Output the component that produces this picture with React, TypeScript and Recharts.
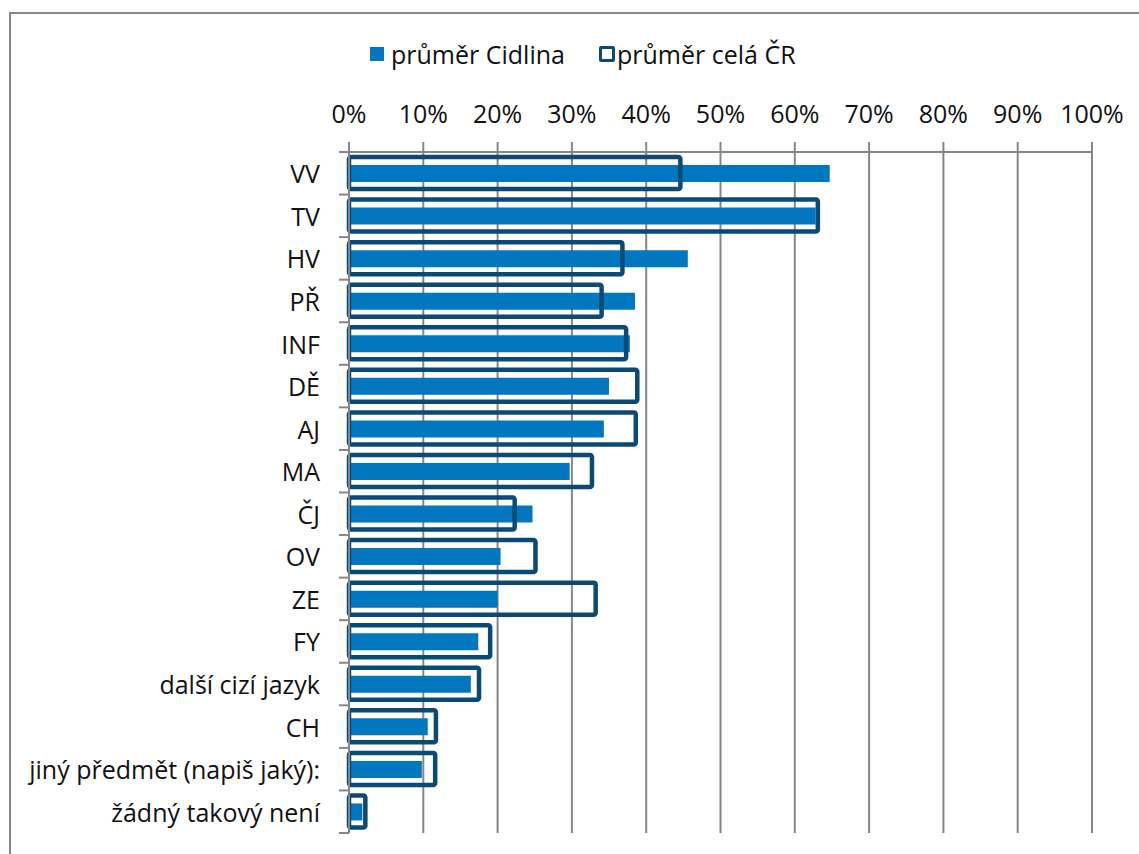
import { BarChart, Bar, XAxis, YAxis, CartesianGrid, Legend } from 'recharts'

const categories = [
  'VV',
  'TV',
  'HV',
  'PŘ',
  'INF',
  'DĚ',
  'AJ',
  'MA',
  'ČJ',
  'OV',
  'ZE',
  'FY',
  'další cizí jazyk',
  'CH',
  'jiný předmět (napiš jaký):',
  'žádný takový není',
]
const cidlina = [64.7, 62.8, 45.6, 38.5, 37.8, 35.0, 34.3, 29.7, 24.7, 20.4, 20.0, 17.4, 16.4, 10.6, 9.8, 1.8]
const celaCR = [44.6, 63.1, 36.8, 34.0, 37.3, 38.8, 38.6, 32.7, 22.3, 25.1, 33.2, 19.0, 17.5, 11.7, 11.6, 2.2]
const xTicks = [0, 10, 20, 30, 40, 50, 60, 70, 80, 90, 100]
const seriesNames = ['průměr Cidlina', 'průměr celá ČR']

const FILL = '#0077BF'
const DARK = '#0B4A75'
const GRID = '#868686'
const FONT = '"Open Sans", "Noto Sans", sans-serif'
const FS = 25

const W = 1139
const H = 854
const PLOT_TOP = 152
const PLOT_BOTTOM = 833
const BAND = (PLOT_BOTTOM - PLOT_TOP) / categories.length

const data = categories.map((name, i) => ({
  name,
  cidlina: cidlina[i],
  cr: celaCR[i],
}))

// label at band centre, tick mark on the band boundary (excel style)
function CategoryTick(props: any) {
  const { x, y, payload, index } = props
  const axisX = x + 29
  const last = index === categories.length - 1
  return (
    <g>
      <line x1={axisX - 10} x2={axisX} y1={y - BAND / 2} y2={y - BAND / 2} stroke={GRID} strokeWidth={2} />
      {last && (
        <line x1={axisX - 10} x2={axisX} y1={y + BAND / 2} y2={y + BAND / 2} stroke={GRID} strokeWidth={2} />
      )}
      <text x={x} y={y} textAnchor="end" dominantBaseline="central" fill="#111" fontSize={FS} fontFamily={FONT}>
        {payload.value}
      </text>
    </g>
  )
}

function LegendContent() {
  return (
    <div style={{ display: 'flex', alignItems: 'center', fontFamily: FONT, fontSize: FS, color: '#111', whiteSpace: 'nowrap' }}>
      <span style={{ display: 'inline-block', width: 14, height: 14, background: FILL, marginRight: 7 }} />
      <span style={{ marginRight: 34 }}>{seriesNames[0]}</span>
      <span
        style={{
          display: 'inline-block',
          width: 10,
          height: 10,
          border: `3px solid ${DARK}`,
          borderRadius: 2,
          background: '#fff',
          marginRight: 2,
        }}
      />
      <span>{seriesNames[1]}</span>
    </div>
  )
}

export default function App() {
  return (
    <div style={{ position: 'absolute', left: 0, top: 0, width: W, height: H, overflow: 'hidden', background: '#fff' }}>
      <div
        style={{
          position: 'absolute',
          left: 9,
          top: 12,
          width: 1300,
          height: 1000,
          border: `2px solid ${GRID}`,
        }}
      />
      <div style={{ position: 'absolute', left: 0, top: 0 }}>
        <BarChart
          width={W}
          height={H}
          data={data}
          layout="vertical"
          margin={{ top: PLOT_TOP - 60, right: W - 1092, bottom: H - PLOT_BOTTOM, left: 0 }}
        >
          <CartesianGrid horizontal={false} stroke={GRID} strokeWidth={2} />
          <XAxis
            type="number"
            orientation="top"
            domain={[0, 100]}
            ticks={xTicks}
            interval={0}
            tickFormatter={(v: number) => `${v}%`}
            height={60}
            tickSize={10}
            tickMargin={19}
            axisLine={{ stroke: GRID, strokeWidth: 2 }}
            tickLine={{ stroke: GRID, strokeWidth: 2 }}
            tick={{ fill: '#111', fontSize: FS, fontFamily: FONT }}
          />
          <XAxis
            xAxisId="bottom"
            type="number"
            orientation="bottom"
            domain={[0, 100]}
            height={0}
            tick={false}
            tickLine={false}
            axisLine={{ stroke: GRID, strokeWidth: 2 }}
          />
          <YAxis
            yAxisId="a"
            type="category"
            dataKey="name"
            width={349}
            tickSize={10}
            tickMargin={19}
            tickLine={false}
            interval={0}
            axisLine={{ stroke: GRID, strokeWidth: 2 }}
            tick={<CategoryTick />}
          />
          <YAxis yAxisId="b" type="category" dataKey="name" hide />
          <Legend
            layout="horizontal"
            verticalAlign="middle"
            align="center"
            content={<LegendContent />}
            wrapperStyle={{ top: 37, left: 370, width: 'auto' }}
          />
          <Bar yAxisId="a" dataKey="cidlina" name={seriesNames[0]} fill={FILL} barSize={17} isAnimationActive={false} />
          <Bar
            yAxisId="b"
            dataKey="cr"
            name={seriesNames[1]}
            fill="none"
            stroke={DARK}
            strokeWidth={4.5}
            barSize={32}
            radius={2}
            isAnimationActive={false}
          />
        </BarChart>
      </div>
    </div>
  )
}
